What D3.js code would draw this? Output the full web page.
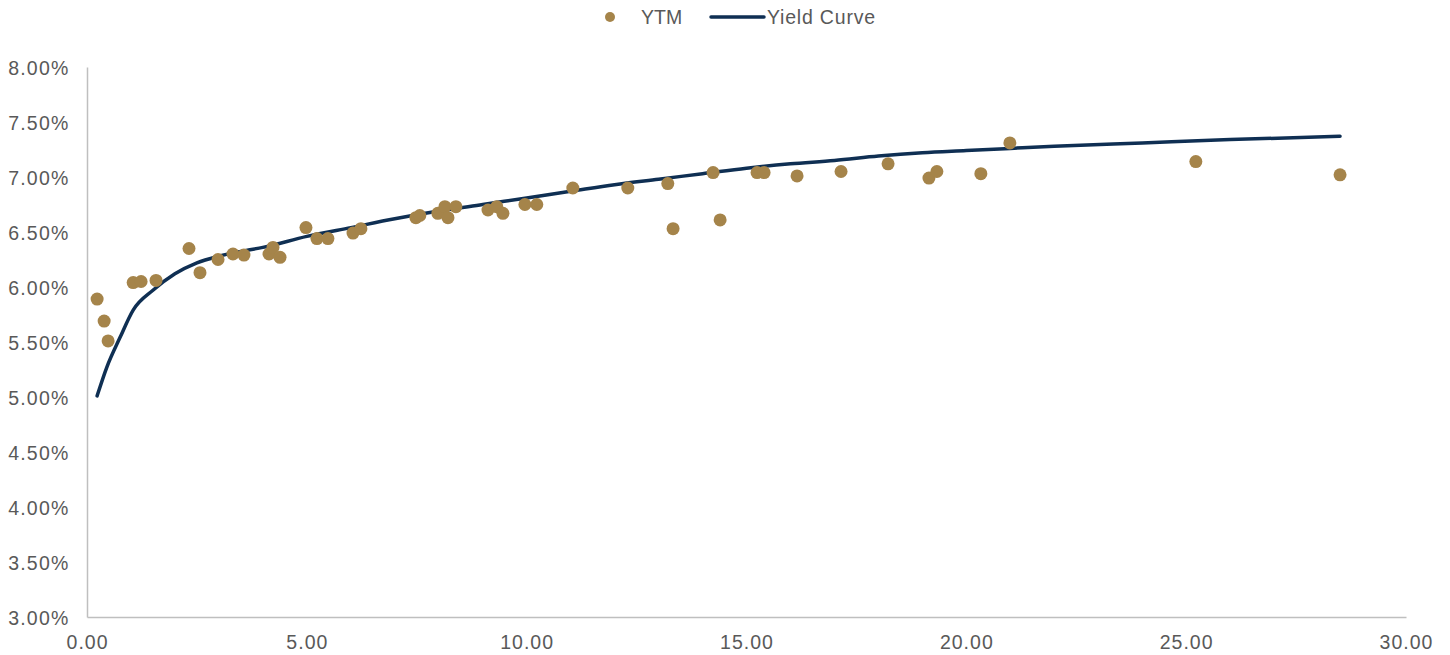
<!DOCTYPE html>
<html>
<head>
<meta charset="utf-8">
<script src="https://cdn.jsdelivr.net/npm/d3@7/dist/d3.min.js"></script>
<style>
  html, body { margin: 0; padding: 0; background: #fff; }
  svg { display: block; font-family: "Liberation Sans", Arial, sans-serif; }
</style>
</head>
<body>
<svg id="chart" width="1450" height="655"></svg>
<script>
// ---- Data ----
const ytmMaturity = [0.23,0.39,0.48,1.05,1.23,1.57,2.32,2.57,2.98,3.32,3.57,4.14,4.23,4.39,4.98,5.23,5.48,6.05,6.23,7.48,7.57,7.98,8.14,8.21,8.39,9.12,9.32,9.46,9.96,10.23,11.05,12.30,13.21,13.33,14.24,14.40,15.24,15.40,16.15,17.15,18.22,19.15,19.33,20.33,20.99,25.22,28.50];
const ytmYield    = [5.89,5.69,5.51,6.04,6.05,6.06,6.35,6.13,6.25,6.30,6.29,6.30,6.36,6.27,6.54,6.44,6.44,6.49,6.53,6.63,6.65,6.67,6.73,6.63,6.73,6.70,6.73,6.67,6.75,6.75,6.90,6.90,6.94,6.53,7.04,6.61,7.04,7.04,7.01,7.05,7.12,6.99,7.05,7.03,7.31,7.14,7.02];

const curveMaturity = [0.23,0.45,0.75,1.05,1.50,2.00,2.50,3.00,3.60,4.00,5.00,6.00,7.00,8.00,9.00,10.00,11.00,12.00,13.00,14.00,15.00,16.00,17.00,18.00,19.00,20.00,21.00,22.00,24.00,26.00,28.50];
const curveYield    = [5.01,5.27,5.54,5.79,5.97,6.12,6.22,6.28,6.33,6.36,6.46,6.54,6.62,6.69,6.75,6.81,6.87,6.93,6.98,7.03,7.08,7.12,7.15,7.19,7.22,7.24,7.26,7.28,7.31,7.34,7.37];

const xTicks = [0,5,10,15,20,25,30];
const yTicks = [3.0,3.5,4.0,4.5,5.0,5.5,6.0,6.5,7.0,7.5,8.0];
const seriesNames = ["YTM", "Yield Curve"];

// ---- Styles ----
const gold = "#A5844A";
const navy = "#0F2F53";
const axisGray = "#BFBFBF";
const textGray = "#595959";
const fontSize = "19.5px";

const svg = d3.select("#chart");
const x = d3.scaleLinear().domain([0, 30]).range([87, 1406]);
const y = d3.scaleLinear().domain([3, 8]).range([617, 67]);

// Axes
const xAxis = d3.axisBottom(x).tickValues(xTicks).tickSize(0).tickPadding(18)
  .tickFormat(d3.format(".2f"));
const yAxis = d3.axisLeft(y).tickValues(yTicks).tickSize(0).tickPadding(17.5)
  .tickFormat(d => d3.format(".2f")(d) + "%");

const gx = svg.append("g").attr("transform", "translate(0,617)").call(xAxis);
const gy = svg.append("g").attr("transform", "translate(87,0)").call(yAxis);

[gx, gy].forEach(g => {
  g.select(".domain").attr("stroke", axisGray).attr("stroke-width", 1.5);
  g.selectAll("text").attr("fill", textGray).style("font-size", fontSize)
    .style("font-family", "'Liberation Sans', Arial, sans-serif");
});
gy.selectAll("text").style("letter-spacing", "1.2px").attr("dy", "0.36em");
gx.selectAll("text").style("letter-spacing", "1px");

// Curve
const line = d3.line().x(d => x(d[0])).y(d => y(d[1])).curve(d3.curveMonotoneX);
svg.append("path")
  .datum(curveMaturity.map((m, i) => [m, curveYield[i]]))
  .attr("d", line)
  .attr("fill", "none")
  .attr("stroke", navy)
  .attr("stroke-width", 3.5)
  .attr("stroke-linecap", "round")
  .attr("stroke-linejoin", "round");

// Points
svg.append("g").selectAll("circle")
  .data(ytmMaturity.map((m, i) => [m, ytmYield[i]]))
  .join("circle")
  .attr("cx", d => x(d[0]))
  .attr("cy", d => y(d[1]))
  .attr("r", 6.5)
  .attr("fill", gold);

// Legend
const lg = svg.append("g").style("font-size", fontSize);
lg.append("circle").attr("cx", 610).attr("cy", 17).attr("r", 5).attr("fill", gold);
lg.append("text").attr("x", 641).attr("y", 17).attr("dy", "0.36em")
  .text(seriesNames[0]).attr("fill", textGray);
lg.append("line").attr("x1", 711).attr("x2", 764).attr("y1", 17).attr("y2", 17)
  .attr("stroke", navy).attr("stroke-width", 3.5).attr("stroke-linecap", "round");
lg.append("text").attr("x", 767).attr("y", 17).attr("dy", "0.36em")
  .style("letter-spacing", "0.8px")
  .text(seriesNames[1]).attr("fill", textGray);
</script>
</body>
</html>
